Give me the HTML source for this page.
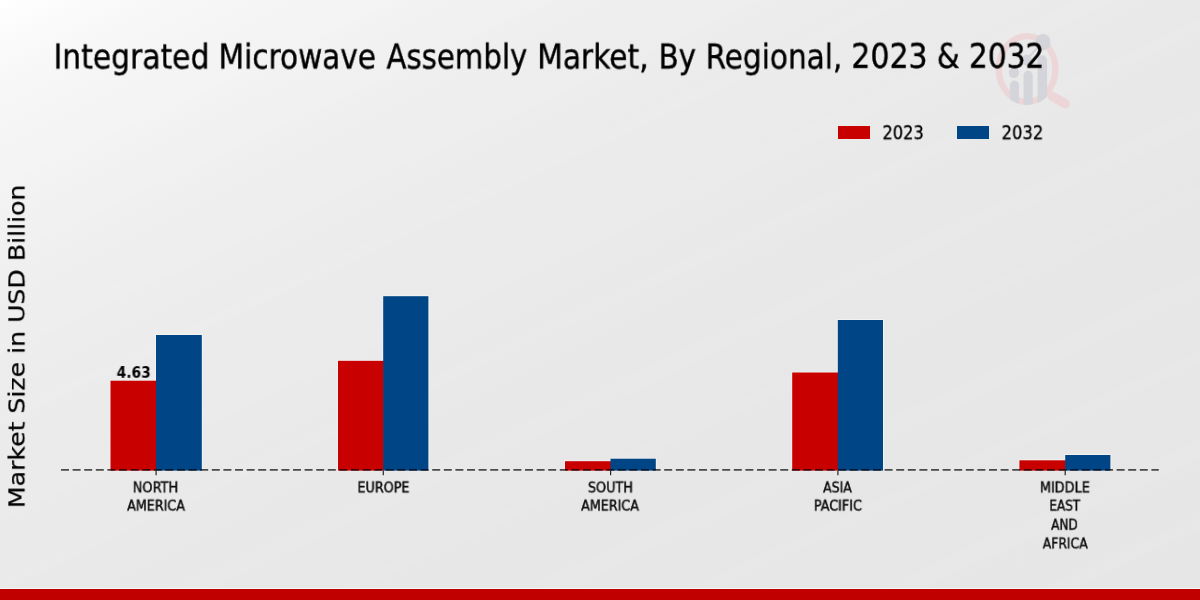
<!DOCTYPE html>
<html lang="en">
<head>
<meta charset="utf-8">
<title>Integrated Microwave Assembly Market, By Regional, 2023 &amp; 2032</title>
<style>
  html, body { margin: 0; padding: 0; }
  body { width: 1200px; height: 600px; overflow: hidden; background: #e8e8e8; }
  #chart {
    position: relative; width: 1200px; height: 600px; overflow: hidden;
    background: repeating-linear-gradient(155deg, rgba(255,255,255,0) 0px, rgba(255,255,255,0.07) 14px, rgba(255,255,255,0) 28px, rgba(255,255,255,0) 70px, rgba(255,255,255,0.05) 80px, rgba(255,255,255,0) 92px, rgba(255,255,255,0) 150px), linear-gradient(to bottom right, #ffffff 0%, #fafafa 4%, #f6f6f6 9%, #f3f3f3 16%, #efefef 24%, #ededed 30%, #ebebeb 38%, #e9e9e9 50%, #e7e7e7 65%, #e6e6e6 100%);
    font-family: "DejaVu Sans Condensed", "DejaVu Sans", "Liberation Sans", sans-serif;
    color: #000;
  }
  .t { position: absolute; left: 0; top: 0; white-space: nowrap; will-change: transform; transform-origin: 0 0; }
  .tk { color: #0d0d0d; }
  .yl { font-family: "DejaVu Sans", "Liberation Sans", sans-serif; -webkit-text-stroke: 0.25px #000; }
  .sw { position: absolute; top: 126px; width: 32.2px; height: 12.8px; }
  #footer { position: absolute; left: 0; top: 589px; width: 1200px; height: 11px; background: #c00000; }
  #footline { position: absolute; left: 0; top: 588px; width: 1200px; height: 1px; background: #f6f6f6; }
  svg { position: absolute; left: 0; top: 0; }
</style>
</head>
<body>
<div id="chart">
  <svg width="1200" height="600" viewBox="0 0 1200 600">
    <!-- watermark logo -->
    <defs><clipPath id="lc"><ellipse cx="1027.1" cy="69" rx="31.5" ry="36"/></clipPath></defs>
    <g id="logo">
      <ellipse cx="1027.1" cy="69" rx="28.35" ry="32.85" fill="none" stroke="#ecd6d8" stroke-width="6.3"/>
      <line x1="1052.5" y1="96.3" x2="1065.2" y2="103.6" stroke="#ecd6d8" stroke-width="9.6" stroke-linecap="round"/>
      <g fill="#d3d5da" clip-path="url(#lc)">
        <path d="M1009.9 110 V85.2 a4.55 4.7 0 0 1 9.1 0 V110 Z"/>
        <path d="M1023.6 110 V75.4 a4.55 4.7 0 0 1 9.1 0 V110 Z"/>
        <path d="M1037.6 110 V60 a4.75 4.7 0 0 1 9.5 0 V110 Z"/>
      </g>
      <g fill="#d3d5da">
        <ellipse cx="1013.9" cy="72.6" rx="5.1" ry="5.5"/>
        <ellipse cx="1026.8" cy="59.9" rx="5.1" ry="5.5"/>
        <ellipse cx="1042.9" cy="42.2" rx="7.6" ry="8.3"/>
        <path d="M1040.5 44.5 L1027.5 58.5" stroke="#d3d5da" stroke-width="2" fill="none"/>
      </g>
    </g>
    <!-- bars -->
    <g>
      <rect x="109.6" y="379.8" width="47.3" height="89.9" fill="#f3f3f3"/>
      <rect x="155.1" y="334.1" width="47.6" height="135.6" fill="#f3f3f3"/>
      <rect x="337.1" y="359.9" width="47.0" height="109.8" fill="#f3f3f3"/>
      <rect x="382.3" y="295.3" width="47.0" height="174.4" fill="#f3f3f3"/>
      <rect x="564.1" y="460.3" width="47.3" height="9.4" fill="#f3f3f3"/>
      <rect x="609.6" y="457.8" width="47.1" height="11.9" fill="#f3f3f3"/>
      <rect x="791.3" y="371.6" width="47.4" height="98.1" fill="#f3f3f3"/>
      <rect x="836.9" y="319.1" width="47.0" height="150.6" fill="#f3f3f3"/>
      <rect x="1018.5" y="459.4" width="47.6" height="10.3" fill="#f3f3f3"/>
      <rect x="1064.3" y="454.1" width="47.0" height="15.6" fill="#f3f3f3"/>
      <rect x="110.5" y="380.7" width="46.2" height="89.9" fill="#c80000"/>
      <rect x="156.0" y="335.0" width="45.8" height="135.6" fill="#004586"/>
      <rect x="338.0" y="360.8" width="45.9" height="109.8" fill="#c80000"/>
      <rect x="383.2" y="296.2" width="45.2" height="174.4" fill="#004586"/>
      <rect x="565.0" y="461.2" width="46.2" height="9.4" fill="#c80000"/>
      <rect x="610.5" y="458.7" width="45.3" height="11.9" fill="#004586"/>
      <rect x="792.2" y="372.5" width="46.3" height="98.1" fill="#c80000"/>
      <rect x="837.8" y="320.0" width="45.2" height="150.6" fill="#004586"/>
      <rect x="1019.4" y="460.3" width="46.5" height="10.3" fill="#c80000"/>
      <rect x="1065.2" y="455.0" width="45.2" height="15.6" fill="#004586"/>
    </g>
    <!-- baseline -->
    <line x1="61" y1="469.8" x2="1158.8" y2="469.8" stroke="#000" stroke-opacity="0.68" stroke-width="1.85" stroke-dasharray="8 3.6"/>
    <!-- ticks -->
    <g stroke="#262626" stroke-width="1.2">
      <line x1="156.1" y1="470.7" x2="156.1" y2="475.3"/>
      <line x1="383.3" y1="470.7" x2="383.3" y2="475.3"/>
      <line x1="610.6" y1="470.7" x2="610.6" y2="475.3"/>
      <line x1="837.9" y1="470.7" x2="837.9" y2="475.3"/>
      <line x1="1065.2" y1="470.7" x2="1065.2" y2="475.3"/>
    </g>
  </svg>

  <div id="title" role="heading" aria-level="1">
  <div class="t" style="font-size:35.3px;line-height:45.89px;-webkit-text-stroke:0.4px;transform:translate(53.49px,34.87px) scale(0.9373,0.9605);">Integrated</div>
  <div class="t" style="font-size:35.3px;line-height:45.89px;-webkit-text-stroke:0.4px;transform:translate(218.47px,34.87px) scale(0.9317,0.9605);">Microwave</div>
  <div class="t" style="font-size:35.3px;line-height:45.89px;-webkit-text-stroke:0.4px;transform:translate(386.47px,34.87px) scale(0.9201,0.9605);">Assembly</div>
  <div class="t" style="font-size:35.3px;line-height:45.89px;-webkit-text-stroke:0.4px;transform:translate(537.11px,34.87px) scale(0.9366,0.9605);">Market,</div>
  <div class="t" style="font-size:35.3px;line-height:45.89px;-webkit-text-stroke:0.4px;transform:translate(658.56px,34.87px) scale(0.9222,0.9605);">By</div>
  <div class="t" style="font-size:35.3px;line-height:45.89px;-webkit-text-stroke:0.4px;transform:translate(705.57px,34.87px) scale(0.9312,0.9605);">Regional,</div>
  <div class="t" style="font-size:35.3px;line-height:45.89px;-webkit-text-stroke:0.4px;transform:translate(851.30px,33.85px) scale(0.9445,0.9705);">2023</div>
  <div class="t" style="font-size:35.3px;line-height:45.89px;-webkit-text-stroke:0.4px;transform:translate(936.83px,33.85px) scale(0.9202,0.9705);">&amp;</div>
  <div class="t" style="font-size:35.3px;line-height:45.89px;-webkit-text-stroke:0.4px;transform:translate(968.88px,33.86px) scale(0.9341,0.9676);">2032</div>
  </div>
  <div class="t yl" style="font-size:25.0px;line-height:25.0px;transform-origin:50% 50%;transform:translate(16.87px,346.38px) translate(-50%,-50%) rotate(-90deg) scale(1.0068,0.8956);">Market Size in USD Billion</div>

  <div class="sw" style="left:837.8px;background:#c80000"></div>
  <div class="sw" style="left:956.9px;background:#004586"></div>
  <div id="legend-labels">
  <div class="t" style="font-size:19.6px;line-height:25.48px;-webkit-text-stroke:0.3px;transform:translate(882.43px,120.25px) scale(0.9188,1.0225);">2023</div>
  <div class="t" style="font-size:19.6px;line-height:25.48px;-webkit-text-stroke:0.3px;transform:translate(1001.56px,120.24px) scale(0.9280,1.0202);">2032</div>
  </div>

  <div class="t" style="font-size:15.5px;line-height:20.15px;font-weight:bold;transform:translate(116.64px,363.04px) scale(0.9901,0.9804);">4.63</div>

  <div id="x-tick-labels">
  <div class="t tk" style="font-size:15.0px;line-height:19.5px;-webkit-text-stroke:0.45px;transform:translate(132.73px,479.62px) scale(0.9593,0.9107);">NORTH</div>
  <div class="t tk" style="font-size:15.0px;line-height:19.5px;-webkit-text-stroke:0.45px;transform:translate(127.13px,497.73px) scale(0.9399,0.9143);">AMERICA</div>
  <div class="t tk" style="font-size:15.0px;line-height:19.5px;-webkit-text-stroke:0.45px;transform:translate(357.42px,479.58px) scale(0.9445,0.9177);">EUROPE</div>
  <div class="t tk" style="font-size:15.0px;line-height:19.5px;-webkit-text-stroke:0.45px;transform:translate(587.87px,479.62px) scale(0.9509,0.9157);">SOUTH</div>
  <div class="t tk" style="font-size:15.0px;line-height:19.5px;-webkit-text-stroke:0.45px;transform:translate(581.13px,497.76px) scale(0.9400,0.9119);">AMERICA</div>
  <div class="t tk" style="font-size:15.0px;line-height:19.5px;-webkit-text-stroke:0.45px;transform:translate(823.06px,479.58px) scale(0.9264,0.9162);">ASIA</div>
  <div class="t tk" style="font-size:15.0px;line-height:19.5px;-webkit-text-stroke:0.45px;transform:translate(813.84px,497.75px) scale(0.9493,0.9165);">PACIFIC</div>
  <div class="t tk" style="font-size:15.0px;line-height:19.5px;-webkit-text-stroke:0.45px;transform:translate(1039.86px,479.60px) scale(0.9515,0.9157);">MIDDLE</div>
  <div class="t tk" style="font-size:15.0px;line-height:19.5px;-webkit-text-stroke:0.45px;transform:translate(1049.37px,497.81px) scale(0.8907,0.9107);">EAST</div>
  <div class="t tk" style="font-size:15.0px;line-height:19.5px;-webkit-text-stroke:0.45px;transform:translate(1051.16px,516.80px) scale(0.8965,0.9196);">AND</div>
  <div class="t tk" style="font-size:15.0px;line-height:19.5px;-webkit-text-stroke:0.45px;transform:translate(1042.73px,535.65px) scale(0.9190,0.9107);">AFRICA</div>
  </div>

  <div id="footline"></div>
  <div id="footer"></div>
</div>
</body>
</html>
